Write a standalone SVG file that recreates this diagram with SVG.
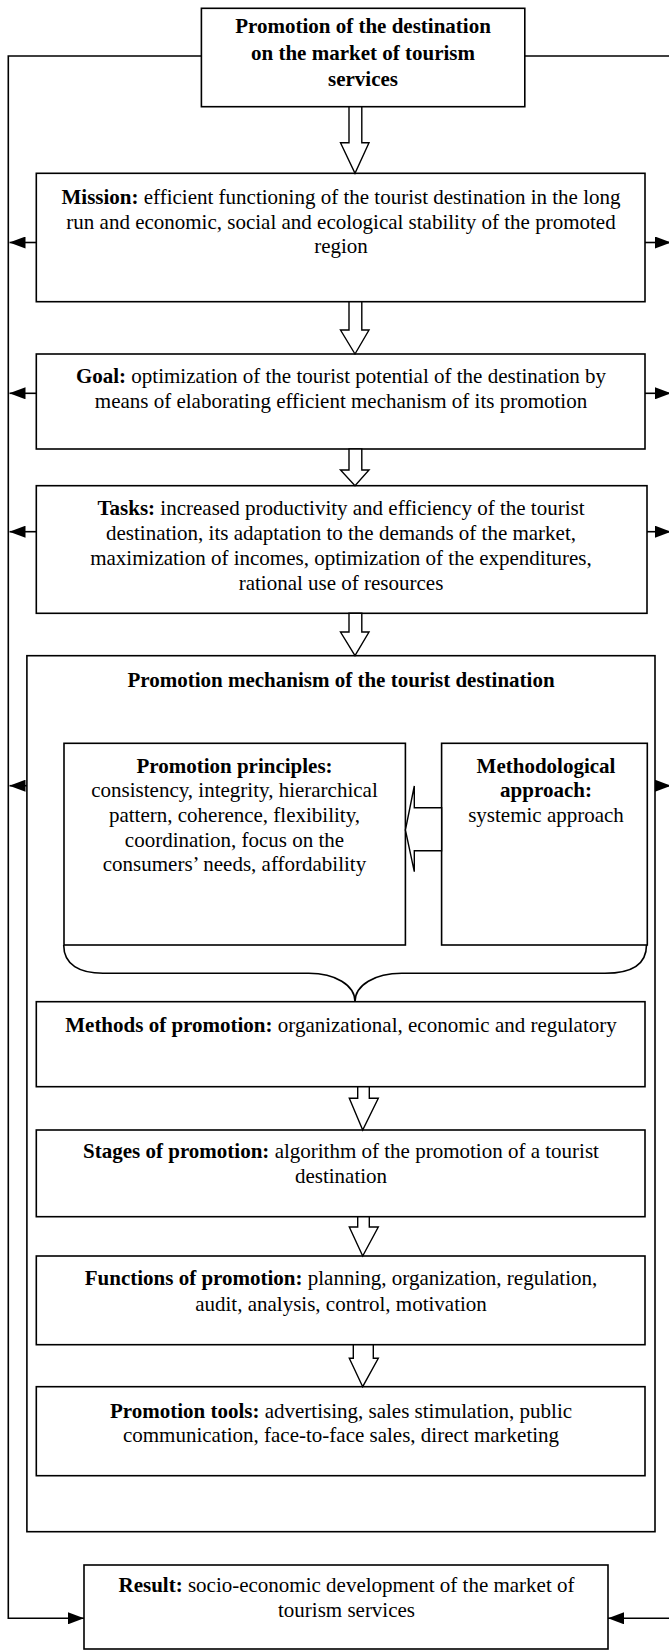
<svg xmlns="http://www.w3.org/2000/svg" width="669" height="1651" viewBox="0 0 669 1651">
<defs>
<style>
.box{fill:#fff;stroke:#000;stroke-width:1.6}
.bar{fill:#fff;stroke:#000;stroke-width:1.4;stroke-linejoin:miter}
.ln{fill:none;stroke:#000;stroke-width:1.6}
text{font-family:"Liberation Serif","Times New Roman",serif;font-size:21px;fill:#000;text-anchor:middle}
.b{font-weight:bold}
</style>
<marker id="ah" viewBox="0 0 16 12" refX="16" refY="6" markerWidth="16" markerHeight="12" markerUnits="userSpaceOnUse" orient="auto">
<path d="M0,0 L16,6 L0,12 Z" fill="#000"/>
</marker>
</defs>
<rect width="669" height="1651" fill="#fff"/>

<g id="node-top">
<rect class="box" x="201.4" y="8.3" width="323.4" height="98.4"/>
<text class="b"><tspan x="363" y="33">Promotion of the destination</tspan><tspan x="363" y="59.5">on the market of tourism</tspan><tspan x="363" y="86">services</tspan></text>
</g>

<g id="node-mission">
<rect class="box" x="36.3" y="173.3" width="608.7" height="128.4"/>
<text><tspan x="341" y="204"><tspan class="b">Mission:</tspan> efficient functioning of the tourist destination in the long</tspan><tspan x="341" y="228.5">run and economic, social and ecological stability of the promoted</tspan><tspan x="341" y="253">region</tspan></text>
</g>

<g id="node-goal">
<rect class="box" x="36.3" y="354" width="608.7" height="95"/>
<text><tspan x="341" y="383"><tspan class="b">Goal:</tspan> optimization of the tourist potential of the destination by</tspan><tspan x="341" y="408">means of elaborating efficient mechanism of its promotion</tspan></text>
</g>

<g id="node-tasks">
<rect class="box" x="36.3" y="485.7" width="610.7" height="127.6"/>
<text><tspan x="341" y="515"><tspan class="b">Tasks:</tspan> increased productivity and efficiency of the tourist</tspan><tspan x="341" y="540">destination, its adaptation to the demands of the market,</tspan><tspan x="341" y="565">maximization of incomes, optimization of the expenditures,</tspan><tspan x="341" y="590">rational use of resources</tspan></text>
</g>

<g id="node-mechanism">
<rect class="box" x="26.9" y="655.7" width="628.1" height="876"/>
<text class="b" x="341" y="687">Promotion mechanism of the tourist destination</text>
</g>

<g id="node-principles">
<rect class="box" x="64" y="743.3" width="341.4" height="201.7"/>
<text><tspan class="b" x="234.5" y="773">Promotion principles:</tspan><tspan x="234.5" y="797">consistency, integrity, hierarchical</tspan><tspan x="234.5" y="822">pattern, coherence, flexibility,</tspan><tspan x="234.5" y="847">coordination, focus on the</tspan><tspan x="234.5" y="871">consumers’ needs, affordability</tspan></text>
</g>

<g id="node-approach">
<rect class="box" x="441.6" y="743.3" width="205.7" height="201.7"/>
<text><tspan class="b" x="546" y="773">Methodological</tspan><tspan class="b" x="546" y="797">approach:</tspan><tspan x="546" y="822">systemic approach</tspan></text>
</g>

<g id="node-methods">
<rect class="box" x="36.3" y="1001.7" width="608.7" height="85"/>
<text x="341" y="1032"><tspan class="b">Methods of promotion:</tspan> organizational, economic and regulatory</text>
</g>

<g id="node-stages">
<rect class="box" x="36.3" y="1130" width="608.7" height="86.7"/>
<text><tspan x="341" y="1158"><tspan class="b">Stages of promotion:</tspan> algorithm of the promotion of a tourist</tspan><tspan x="341" y="1183">destination</tspan></text>
</g>

<g id="node-functions">
<rect class="box" x="36.3" y="1256" width="608.7" height="88.7"/>
<text><tspan x="341" y="1285"><tspan class="b">Functions of promotion:</tspan> planning, organization, regulation,</tspan><tspan x="341" y="1311">audit, analysis, control, motivation</tspan></text>
</g>

<g id="node-tools">
<rect class="box" x="36.3" y="1386.7" width="608.7" height="89"/>
<text><tspan x="341" y="1418"><tspan class="b">Promotion tools:</tspan> advertising, sales stimulation, public</tspan><tspan x="341" y="1442">communication, face-to-face sales, direct marketing</tspan></text>
</g>

<g id="node-result">
<rect class="box" x="84" y="1565" width="524" height="84"/>
<text><tspan x="346.5" y="1592"><tspan class="b">Result:</tspan> socio-economic development of the market of</tspan><tspan x="346.5" y="1617">tourism services</tspan></text>
</g>

<g id="connectors">
<path class="ln" d="M201.4,56 H8.3 V1618.3 H84" marker-end="url(#ah)"/>
<path class="ln" d="M524.8,56 H669"/>
<path class="ln" d="M669,1618.3 H608" marker-end="url(#ah)"/>
<path class="ln" d="M36.3,242.5 H9.5" marker-end="url(#ah)"/>
<path class="ln" d="M645,242.5 H671" marker-end="url(#ah)"/>
<path class="ln" d="M36.3,393.3 H9.5" marker-end="url(#ah)"/>
<path class="ln" d="M645,393.3 H671" marker-end="url(#ah)"/>
<path class="ln" d="M36.3,531.7 H9.5" marker-end="url(#ah)"/>
<path class="ln" d="M647,531.7 H671" marker-end="url(#ah)"/>
<path class="ln" d="M26.9,785.7 H9.5" marker-end="url(#ah)"/>
<path class="ln" d="M655,785.7 H671" marker-end="url(#ah)"/>
<polygon class="bar" points="349,106.7 361.8,106.7 361.8,142.7 369,142.7 355,173.3 340.5,142.7 349,142.7"/>
<polygon class="bar" points="349,301.7 361.8,301.7 361.8,330 369,330 355,354 340.5,330 349,330"/>
<polygon class="bar" points="349,449 361.8,449 361.8,470 369,470 355,485.7 340.5,470 349,470"/>
<polygon class="bar" points="349,613.3 361.8,613.3 361.8,632 369,632 355,655.7 340.5,632 349,632"/>
<polygon class="bar" points="441.6,807.7 414.3,807.7 414.3,786 405.4,830 414.3,871.7 414.3,850.7 441.6,850.7"/>
<polygon class="bar" points="357.7,1086.7 369.3,1086.7 369.3,1098.3 378.3,1098.3 362.7,1130 349.3,1098.3 357.7,1098.3"/>
<polygon class="bar" points="357.7,1216.7 369.3,1216.7 369.3,1227 378.3,1227 362.7,1256 349.3,1227 357.7,1227"/>
<polygon class="bar" points="353.3,1344.7 373.3,1344.7 373.3,1358.3 378.3,1358.3 362.7,1386.7 349.3,1358.3 353.3,1358.3"/>
<path class="ln" d="M63.7,945 C63.7,965 80,973.3 103,973.3 L308.8,973.3 C335,973.3 355,985 355,1001.7 C355,985 375,973.3 401.7,973.3 L605,973.3 C630,973.3 646.5,965 646.5,945"/>
</g>
</svg>
